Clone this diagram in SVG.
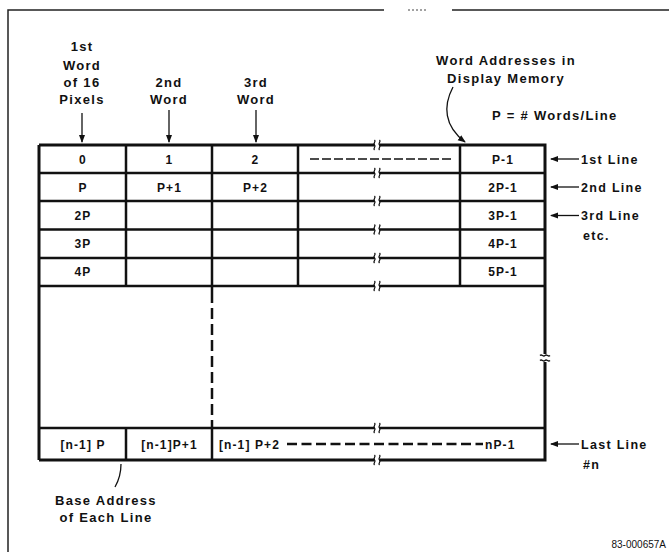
<svg xmlns="http://www.w3.org/2000/svg" xmlns:xlink="http://www.w3.org/1999/xlink" width="669" height="552" viewBox="0 0 669 552">
<style>
text{font-family:"Liberation Sans",Arial,sans-serif;font-weight:bold;fill:#111;}
.c{font-size:12px;text-anchor:middle;letter-spacing:1.1px;}
.cs{font-size:12px;letter-spacing:1.1px;}
.l{font-size:12.5px;letter-spacing:1.3px;}
.lm{font-size:13px;text-anchor:middle;letter-spacing:1.3px;}
.g{stroke:#111;stroke-width:2.5;fill:none;}
.o{stroke:#111;stroke-width:3;fill:none;}
.t{stroke:#111;stroke-width:1.3;fill:none;}
.f{stroke:#222;stroke-width:1.5;fill:none;}
</style>
<defs>
<marker id="ad" viewBox="0 0 8 8" refX="7" refY="4" markerWidth="8" markerHeight="8" markerUnits="userSpaceOnUse" orient="auto">
<path d="M0,1 L8,4 L0,7 z" fill="#111"/>
</marker>
<g id="brk" class="t"><path d="M-2.5,-5 c2,2 -2,3 0,5 c2,2 -2,3 0,5 M2.5,-5 c2,2 -2,3 0,5 c2,2 -2,3 0,5"/></g>
</defs>
<rect width="669" height="552" fill="#fff"/>
<g id="frame">
<path class="f" d="M8,552 V10 H384 M452,10 H669"/>
<path d="M408,10 H428" stroke="#444" stroke-width="1" stroke-dasharray="2 2"/>
</g>
<g id="table">
<path class="o" d="M39,145 H374.5 M379.5,145 H545 V354 M545,362 V460 H379.5 M374.5,460 H39 Z"/>
<path class="o" d="M39,145 V460"/>
<path class="g" d="M39,173 H374.5 M379.5,173 H545 M39,201 H374.5 M379.5,201 H545 M39,229.5 H374.5 M379.5,229.5 H545 M39,258 H374.5 M379.5,258 H545 M39,286 H374.5 M379.5,286 H545 M39,428 H374.5 M379.5,428 H545"/>
<path class="g" d="M126,145 V286 M126,428 V460 M212,145 V292 M212,422 V460 M298,145 V286 M460,145 V286"/>
<path class="g" d="M212,292 V422" stroke-dasharray="11 5"/>
<use xlink:href="#brk" x="377" y="145"/>
<use xlink:href="#brk" x="377" y="173"/>
<use xlink:href="#brk" x="377" y="201"/>
<use xlink:href="#brk" x="377" y="229.5"/>
<use xlink:href="#brk" x="377" y="258"/>
<use xlink:href="#brk" x="377" y="286"/>
<use xlink:href="#brk" x="377" y="428"/>
<use xlink:href="#brk" x="377" y="460"/>
<use xlink:href="#brk" transform="translate(545,358) rotate(90)"/>
</g>
<g id="cells">
<text class="c" x="83" y="163.5">0</text>
<text class="c" x="169.5" y="163.5">1</text>
<text class="c" x="255.5" y="163.5">2</text>
<path d="M310,159 H452" stroke="#111" stroke-width="1.6" stroke-dasharray="9 3"/>
<text class="c" x="503" y="163.5">P-1</text>
<text class="c" x="83" y="191.5">P</text>
<text class="c" x="169.5" y="191.5">P+1</text>
<text class="c" x="255.5" y="191.5">P+2</text>
<text class="c" x="503" y="191.5">2P-1</text>
<text class="c" x="83" y="220">2P</text>
<text class="c" x="503" y="220">3P-1</text>
<text class="c" x="83" y="248">3P</text>
<text class="c" x="503" y="248">4P-1</text>
<text class="c" x="83" y="276">4P</text>
<text class="c" x="503" y="276">5P-1</text>
<text class="c" x="83" y="448.5">[n-1] P</text>
<text class="c" x="169.5" y="448.5">[n-1]P+1</text>
<text class="cs" x="219" y="448.5">[n-1] P+2</text>
<path d="M287,444 H483" stroke="#111" stroke-width="2.5" stroke-dasharray="10 4.5"/>
<text class="cs" x="485" y="448.5">nP-1</text>
</g>
<g id="label-first">
<text class="lm" x="82" y="51">1st</text>
<text class="lm" x="82" y="70">Word</text>
<text class="lm" x="82" y="87">of 16</text>
<text class="lm" x="82" y="104">Pixels</text>
</g>
<g id="label-second">
<text class="lm" x="169" y="87">2nd</text>
<text class="lm" x="169" y="104">Word</text>
</g>
<g id="label-third">
<text class="lm" x="256" y="87">3rd</text>
<text class="lm" x="256" y="104">Word</text>
</g>
<g id="label-addresses">
<text class="lm" x="506" y="65">Word Addresses in</text>
<text class="lm" x="506" y="83">Display Memory</text>
</g>
<g id="label-p">
<text class="lm" x="492" y="120" style="text-anchor:start">P = # Words/Line</text>
</g>
<g id="label-lines">
<text class="l" x="581" y="163.5">1st Line</text>
<text class="l" x="581" y="191.5">2nd Line</text>
<text class="l" x="581" y="219.5">3rd Line</text>
<text class="l" x="583" y="240">etc.</text>
<text class="l" x="581" y="448.5">Last Line</text>
<text class="l" x="583" y="469">#n</text>
</g>
<g id="label-base">
<text class="lm" x="106" y="505">Base Address</text>
<text class="lm" x="106" y="521.5">of Each Line</text>
</g>
<g id="figure-id">
<text style="font-size:10px;font-weight:normal" x="666" y="548" text-anchor="end">83-000657A</text>
</g>
<g id="connectors">
<path class="t" d="M82,113 V142" marker-end="url(#ad)"/>
<path class="t" d="M169,110 V142" marker-end="url(#ad)"/>
<path class="t" d="M256,110 V142" marker-end="url(#ad)"/>
<path class="t" d="M453,87 C443,106 444,126 465,142" marker-end="url(#ad)"/>
<path class="t" d="M579,159 H551" marker-end="url(#ad)"/>
<path class="t" d="M579,187 H551" marker-end="url(#ad)"/>
<path class="t" d="M579,215.5 H551" marker-end="url(#ad)"/>
<path class="t" d="M579,444 H551" marker-end="url(#ad)"/>
<path class="t" d="M121,464 C121,472 119,480 115,487"/>
</g>
</svg>
